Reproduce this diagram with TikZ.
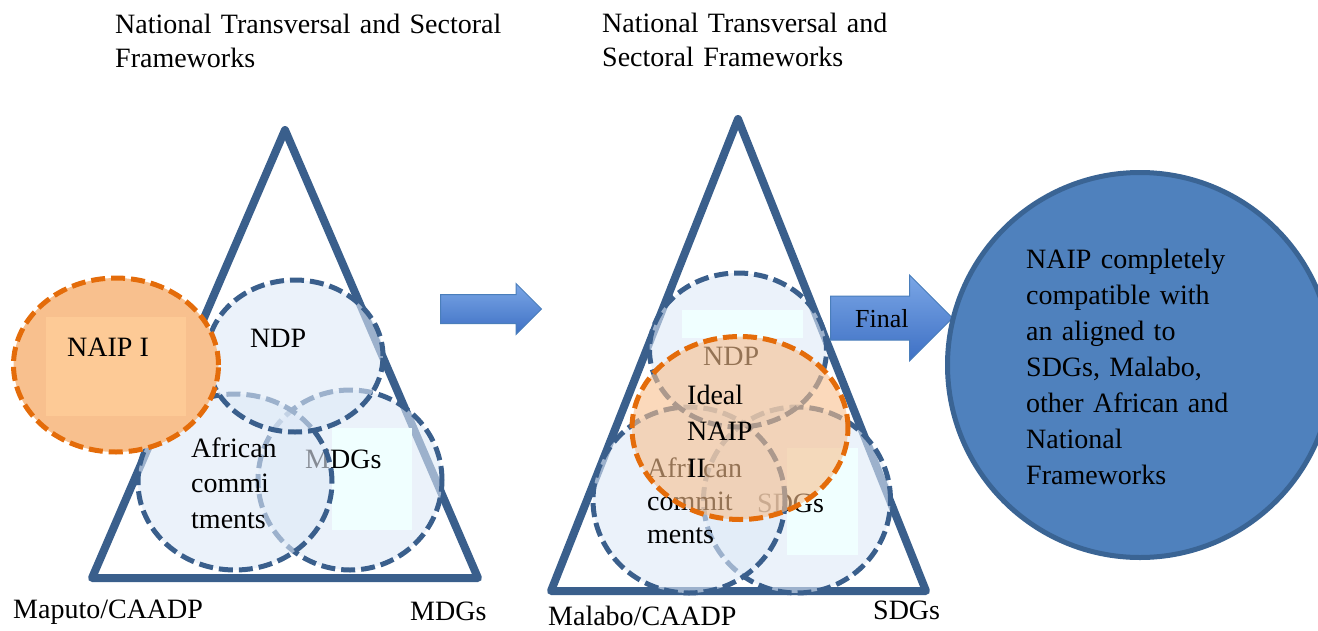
\documentclass[tikz,border=0pt]{standalone}
\usepackage{fontspec}
\setmainfont{Liberation Serif}
\usetikzlibrary{shapes.geometric,shapes.arrows}
\definecolor{triblue}{RGB}{58,95,140}
\definecolor{ringfill}{RGB}{222,233,247}
\definecolor{naiporange}{RGB}{228,108,10}
\definecolor{naipfill}{RGB}{248,192,142}
\definecolor{naipbox}{RGB}{253,202,150}
\definecolor{boxcyan}{RGB}{240,255,255}
\definecolor{arrowtop}{RGB}{122,166,230}
\definecolor{arrowbot}{RGB}{62,112,196}
\definecolor{arrowline}{RGB}{74,126,187}
\definecolor{finalfill}{RGB}{79,129,189}
\definecolor{finalline}{RGB}{58,100,148}
\tikzset{
	tri/.style={draw=triblue,line width=8pt,line join=round},
	ring/.style={ellipse,draw=triblue,line width=5pt,dash pattern=on 14pt off 6pt,
		fill=ringfill,fill opacity=0.6,inner sep=0pt},
	naipring/.style={ellipse,draw=naiporange,line width=5pt,dash pattern=on 14pt off 6pt,inner sep=0pt},
	cyanbox/.style={fill=boxcyan,inner sep=0pt},
	lbl/.style={font=\fontsize{28}{35.5}\selectfont,inner sep=0pt,anchor=base west},
	lblblock/.style={lbl,align=left,text width=#1},
	bigarrow/.style={single arrow,draw=arrowline,line width=1pt,top color=arrowtop,
		bottom color=arrowbot,inner sep=0pt,text width=0pt,text height=#1,text depth=#1,anchor=tail},
}
\begin{document}
\begin{tikzpicture}[x=1pt,y=-1pt]
	\useasboundingbox (0,0) rectangle (1318,630);
	\clip (0,0) rectangle (1318,630);
	% titles
	\path (115,33) node[lblblock=400pt,font=\fontsize{28}{34}\selectfont](ttlone){National Transversal and Sectoral\\Frameworks};
	\path (602,32) node[lblblock=330pt,font=\fontsize{28}{34}\selectfont](ttltwo){National Transversal and\\Sectoral Frameworks};
	% left triangle
	\draw[tri] (285,130)--(92,578)--(478,578)--cycle;
	\node[ring,minimum width=184pt,minimum height=180pt] (lmdg) at (350,480) {};
	\node[cyanbox,minimum width=80pt,minimum height=102pt] (lmdgbox) at (372,479) {};
	\path (305,468) node[lbl](lmdgtxt){MDGs};
	\node[ring,minimum width=194pt,minimum height=176pt] (lafr) at (235,482) {};
	\path (191,457) node[lblblock=150pt](lafrtxt){African\\commi\\tments};
	\node[ring,minimum width=176pt,minimum height=152pt] (lndp) at (295,356) {};
	\path (250,347) node[lbl](lndptxt){NDP};
	\node[naipring,fill=naipfill,minimum width=205pt,minimum height=174pt] (naipi) at (116,365) {};
	\node[fill=naipbox,inner sep=0pt,minimum width=140pt,minimum height=99pt] (naipibox) at (116,366) {};
	\path (67,356) node[lbl](naipitxt){NAIP I};
	\path (13,618) node[lbl](lcaadp){Maputo/CAADP};
	\path (410,620) node[lbl](lmdgs){MDGs};
	% first arrow
	\node[bigarrow=14pt,single arrow head extend=11pt,minimum height=101pt] (arrowone) at (440,309) {};
	% middle triangle
	\draw[tri] (738,119)--(551,591)--(926,591)--cycle;
	\node[ring,minimum width=187pt,minimum height=186pt] (msdg) at (797,500) {};
	\node[cyanbox,minimum width=71pt,minimum height=107pt] (msdgbox) at (822,501) {};
	\path (757,512) node[lbl](msdgtxt){SDGs};
	\node[ring,minimum width=192pt,minimum height=186pt] (mafr) at (689,500) {};
	\path (647,477) node[lblblock=150pt,font=\fontsize{28}{33}\selectfont](mafrtxt){Afri can\\commit\\ments};
	\node[ring,minimum width=177pt,minimum height=154pt] (mndp) at (738,350) {};
	\node[cyanbox,minimum width=121pt,minimum height=28pt] (mndpbox) at (742,324) {};
	\path (703,365) node[lbl](mndptxt){NDP};
	\node[naipring,fill=naipfill,fill opacity=0.6,minimum width=216pt,minimum height=183pt] (ideal) at (740,428) {};
	\path (687,404) node[lblblock=120pt,font=\fontsize{28}{36.5}\selectfont](idealtxt){Ideal\\NAIP\\II};
	\path (548,625) node[lbl](mcaadp){Malabo/CAADP};
	\path (873,619) node[lbl](msdgs){SDGs};
	% final arrow and result
	\node[bigarrow=21.5pt,single arrow head extend=21pt,minimum height=122pt] (arrowtwo) at (830,318) {};
	\path (855,327) node[lbl,font=\fontsize{26}{30}\selectfont](finaltxt){Final};
	\node[circle,fill=finalfill,draw=finalline,line width=5pt,minimum size=385pt,inner sep=0pt] (finalring) at (1140,365) {};
	\path (1026,268) node[lblblock=290pt,font=\fontsize{28}{36.1}\selectfont](finalringtxt){NAIP completely\\compatible with\\an aligned to\\SDGs, Malabo,\\other African and\\National\\Frameworks};
\end{tikzpicture}
\end{document}
